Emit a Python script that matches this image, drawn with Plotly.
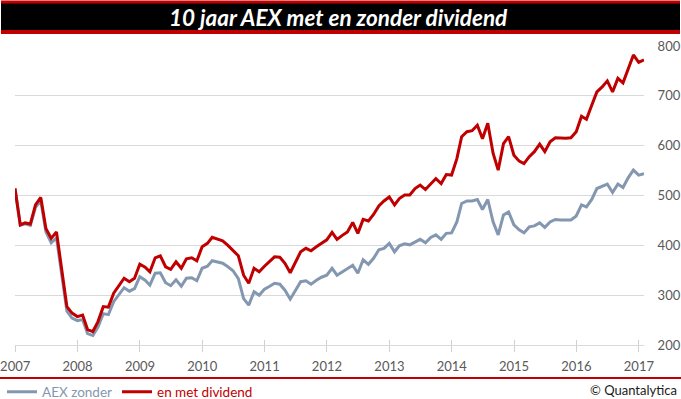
import pandas as pd
import plotly.graph_objects as go

# ---- data (monthly) ----
dates = pd.date_range("2006-12-31", periods=122, freq="ME")

aex_zonder = [
    514, 440, 443, 440, 476, 490, 427, 405, 415, 340, 268, 254,
    249, 251, 223, 219, 236, 263, 261, 287, 302, 315, 308, 313,
    337, 330, 320, 344, 345, 325, 319, 331, 318, 334, 335, 329,
    354, 358, 369, 367, 364, 357, 349, 333, 293, 280, 307, 300,
    312, 318, 324, 322, 310, 292, 310, 327, 329, 322, 330, 336,
    340, 354, 340, 347, 352, 360, 344, 371, 362, 374, 391, 394,
    404, 387, 399, 403, 401, 407, 412, 405, 416, 421, 412, 424,
    425, 447, 484, 489, 489, 492, 472, 492, 447, 421, 461, 467,
    441, 431, 425, 437, 439, 445, 436, 447, 452, 451, 451, 451,
    459, 481, 477, 492, 514, 519, 523, 506, 523, 516, 536, 551,
    541, 544,
]

met_dividend = [
    514, 441, 445, 443, 481, 496, 434, 414, 427, 350, 277, 264,
    257, 260, 231, 227, 247, 277, 276, 304, 320, 334, 327, 334,
    362, 356, 347, 375, 379, 357, 352, 367, 354, 373, 375, 369,
    397, 404, 416, 412, 409, 400, 389, 379, 340, 324, 354, 347,
    358, 369, 377, 376, 364, 345, 367, 387, 394, 389, 397, 404,
    411, 426, 412, 420, 427, 446, 424, 452, 449, 462, 479, 489,
    497, 481, 494, 501, 501, 514, 521, 512, 524, 534, 524, 542,
    541, 574, 618, 628, 630, 641, 614, 645, 585, 551, 604, 618,
    581, 569, 564, 578, 588, 603, 588, 608, 616, 615, 615, 616,
    628, 659, 653, 681, 708, 718, 730, 708, 735, 726, 755, 782,
    767, 772,
]

year_ticks = [f"{y}-01-01" for y in range(2007, 2018)]
year_labels = [str(y) for y in range(2007, 2018)]
y_ticks = [200, 300, 400, 500, 600, 700, 800]

GREY = "#8497b0"
RED = "#c00000"
FONT = "Lato"

# ---- layout helpers (pixel -> paper) ----
W, H = 681, 399
L, R, T, B = 15, 37, 46, 54
PW, PH = W - L - R, H - T - B


def px(X):
    return (X - L) / PW


def py(Y):
    return (H - B - Y) / PH


fig = go.Figure()
fig.add_trace(go.Scatter(
    x=dates, y=aex_zonder, mode="lines",
    name=f"<span style='color:{GREY}'>AEX zonder</span>",
    line=dict(color=GREY, width=3), hoverinfo="skip",
))
fig.add_trace(go.Scatter(
    x=dates, y=met_dividend, mode="lines",
    name=f"<span style='color:{RED}'>en met dividend</span>",
    line=dict(color=RED, width=3), hoverinfo="skip",
))
# invisible trace to carry the overlay axis (inner half of the crossing ticks)
fig.add_trace(go.Scatter(
    x=dates[:1], y=met_dividend[:1], mode="lines", xaxis="x2",
    line=dict(width=0), showlegend=False, hoverinfo="skip",
))

x_range = [dates[0], dates[-1]]

fig.update_layout(
    width=W, height=H,
    margin=dict(l=L, r=R, t=T, b=B, pad=0, autoexpand=False),
    paper_bgcolor="white", plot_bgcolor="white",
    font=dict(family=FONT, size=13, color="#595959"),
    showlegend=True,
    hovermode=False,
    legend=dict(
        orientation="h", x=px(2), xanchor="left", y=py(392), yanchor="middle",
        font=dict(family=FONT, size=13.5), bgcolor="rgba(0,0,0,0)",
        itemwidth=30, traceorder="normal",
    ),
    xaxis=dict(
        type="date", range=x_range, automargin=False,
        tickmode="array", tickvals=year_ticks, ticktext=year_labels,
        showgrid=False, zeroline=False,
        showline=True, linecolor="#d9d9d9", linewidth=1,
        ticks="outside", ticklen=6, tickcolor="#d0d0d0", tickwidth=1,
        tickfont=dict(family=FONT, size=13, color="#595959"),
        ticklabelstandoff=3,
    ),
    xaxis2=dict(
        type="date", range=x_range, overlaying="x", anchor="y", automargin=False,
        tickmode="array", tickvals=year_ticks, ticktext=["" for _ in year_ticks],
        showgrid=False, zeroline=False, showline=False,
        ticks="inside", ticklen=5, tickcolor="#d0d0d0", tickwidth=1,
        showticklabels=False,
    ),
    yaxis=dict(
        range=[200, 800], side="right", automargin=False,
        tickmode="array", tickvals=y_ticks,
        showgrid=True, gridcolor="#d9d9d9", gridwidth=1,
        zeroline=False, showline=False,
        ticks="outside", ticklen=10, tickcolor="rgba(0,0,0,0)",
        tickfont=dict(family=FONT, size=13, color="#595959"),
    ),
    shapes=[
        dict(type="rect", xref="paper", yref="paper",
             x0=px(1), x1=px(680), y0=py(34), y1=py(0.5),
             fillcolor=RED, line=dict(width=0), layer="above"),
        dict(type="rect", xref="paper", yref="paper",
             x0=px(1), x1=px(680), y0=py(30), y1=py(3.5),
             fillcolor="black", line=dict(width=0), layer="above"),
        dict(type="line", xref="paper", yref="paper",
             x0=px(0), x1=px(681), y0=py(378), y1=py(378),
             line=dict(color=RED, width=2)),
    ],
    annotations=[
        dict(text="10 jaar AEX met en zonder dividend",
             xref="paper", yref="paper", x=px(338), y=py(17),
             xanchor="center", yanchor="middle", showarrow=False,
             font=dict(family=FONT, size=22.5, color="white",
                       weight="bold", style="italic")),
        dict(text="© Quantalytica",
             xref="paper", yref="paper", x=px(679), y=py(390),
             xanchor="right", yanchor="middle", showarrow=False,
             font=dict(family=FONT, size=13, color="#1a1a1a")),
    ],
)

fig.write_html(
    "out.html",
    config={"displayModeBar": False, "staticPlot": False},
    post_script="document.body.style.margin='0px';document.body.style.overflow='hidden';",
)
